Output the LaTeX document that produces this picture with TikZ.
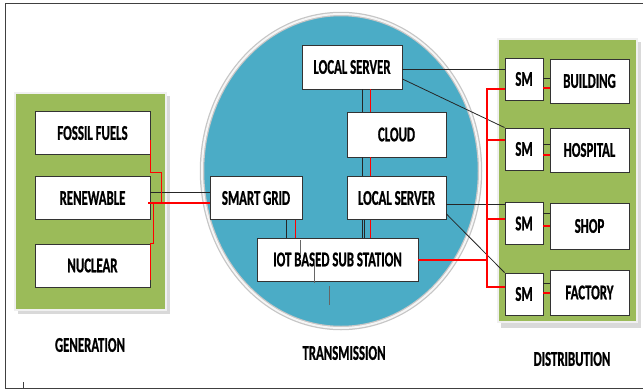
\documentclass[tikz,border=0pt]{standalone}
\usepackage{fontspec}
\setmainfont{Carlito}[FakeStretch=0.61,BoldFeatures={FakeBold=0.8}]
\usetikzlibrary{calc}
\definecolor{panelgreen}{HTML}{9BBB59}
\definecolor{ringblue}{HTML}{4BACC6}
\begin{document}
\begin{tikzpicture}
			[x=1pt,y=-1pt,
			box/.style={draw=black!80,line width=0.9pt,fill=white,inner sep=0pt,minimum height=43pt,
				font=\fontsize{21}{22}\selectfont\bfseries},
			panel/.style={fill=panelgreen,draw=gray!12,line width=1.5pt},
			caption/.style={font=\fontsize{21}{22}\selectfont\bfseries},
			blk/.style={draw=black!85,line width=0.8pt},
			rd/.style={draw=red,line width=1pt},
			rdthick/.style={draw=red,line width=2.4pt}]
			\useasboundingbox (0,0) rectangle (643,389);
			% frame
			\draw[black!75,line width=1pt](643,3) --(5,3) --(5,388) --(643,388);
			\draw[black!75,line width=0.8pt](23,382) --(23,389);
			% panels and ring
			\fill[gray!30](18,96) rectangle (170,314);
			\draw[panel](15,93) rectangle (166,310);
			\fill[gray!30](501,42) rectangle (641,328);
			\draw[panel](498,39) rectangle (637,322);
			\draw[fill=ringblue,draw=gray!45,line width=4.5pt](341,171) ellipse [x radius=139,y radius=157];
			\draw[draw=gray!8,line width=2pt](341,171) ellipse [x radius=139,y radius=157];
			% generation
			\node[box,minimum width=115pt,name=fossil]at(92.5,133){FOSSIL FUELS};
			\node[box,minimum width=115pt,name=renew]at(92.5,198){RENEWABLE};
			\node[box,minimum width=115pt,name=nuclear]at(92.5,265.5){NUCLEAR};
			% transmission
			\node[box,minimum width=100pt,minimum height=44pt,name=lsa]at(352,67){LOCAL SERVER};
			\node[box,minimum width=99pt,minimum height=45pt,name=cloud]at(396.5,134.5){CLOUD};
			\node[box,minimum width=92pt,name=sgrid]at(256,198){SMART GRID};
			\node[box,minimum width=99pt,name=lsb]at(396.5,198){LOCAL SERVER};
			\node[box,minimum width=161pt,name=iot]at(337.5,259.5){IOT BASED SUB STATION};
			% distribution
			\node[box,minimum width=38pt,minimum height=42pt,name=sma]at(524,79){SM};
			\node[box,minimum width=38pt,minimum height=42pt,name=smb]at(524,149){SM};
			\node[box,minimum width=38pt,minimum height=42pt,name=smc]at(524,223.5){SM};
			\node[box,minimum width=38pt,minimum height=42pt,name=smd]at(524,294){SM};
			\node[box,minimum width=79pt,minimum height=44pt,name=building]at(589.5,81){BUILDING};
			\node[box,minimum width=79pt,minimum height=44pt,name=hospital]at(589.5,150){HOSPITAL};
			\node[box,minimum width=79pt,minimum height=46pt,name=shop]at(589.5,226){SHOP};
			\node[box,minimum width=79pt,minimum height=45pt,name=factory]at(589.5,292.5){FACTORY};
			\coordinate (bus) at (487,0);
			% labels
			\node[caption,name=gen]at(90,345){GENERATION};
			\node[caption,name=trans]at(344,353){TRANSMISSION};
			\node[caption,name=dist]at(572,359){DISTRIBUTION};
			% generation to smart grid
			\draw[blk]([yshift=6pt]renew.east) --([yshift=6pt]sgrid.west);
			\draw[rdthick]([xshift=-2pt,yshift=-5pt]renew.east) --([yshift=-5pt]sgrid.west);
			\draw[rd]([yshift=-7pt]fossil.east) --++(0,32) --++(11,0) --++(0,31);
			\draw[rd]([yshift=-14.5pt]nuclear.east) --++(0,-37) --++(3,0) --++(0,-40);
			% inside the ring
			\draw[blk]([xshift=10pt]lsa.south) --([xshift=10pt]lsa.south |- cloud.north);
			\draw[rd]([xshift=18pt]lsa.south) --([xshift=18pt]lsa.south |- cloud.north);
			\draw[blk]([xshift=-34.5pt]cloud.south) --([xshift=-34.5pt]lsb.north);
			\draw[rd]([xshift=-26.5pt]cloud.south) --([xshift=-26.5pt]lsb.north);
			\draw[blk]([xshift=-34.5pt]lsb.south) --([xshift=-34.5pt]lsb.south |- iot.north);
			\draw[blk]([xshift=-32pt]lsb.south) --([xshift=-32pt]lsb.south |- iot.north);
			\draw[rd]([xshift=-26.5pt]lsb.south) --([xshift=-26.5pt]lsb.south |- iot.north);
			\draw[blk]([xshift=30pt]sgrid.south) --([xshift=30pt]sgrid.south |- iot.north);
			\draw[rd]([xshift=39pt]sgrid.south) --([xshift=39pt]sgrid.south |- iot.north);
			\draw[black!60,line width=0.6pt](300,240) --(300,255);
			\draw[black!60,line width=0.6pt](314,260) --(314,283);
			\draw[black!60,line width=0.8pt](329,286) --(329,305);
			% servers to smart meters
			\draw[blk]([yshift=-2pt]lsa.east) --([yshift=-2pt]lsa.east -| sma.west);
			\draw[blk]([yshift=-12pt]lsa.east) --(smb.north west);
			\draw[blk]([yshift=-6pt]lsb.east) --([yshift=-6pt]lsb.east -| smc.west);
			\draw[blk]([yshift=-16pt]lsb.east) --(smd.north west);
			% red bus
			\draw[rdthick,line width=2pt](iot.east) --(iot.east -| bus);
			\draw[rdthick,line width=2pt]([yshift=-10pt]sma.west) -|(bus |- 0,287) --([yshift=7pt]smd.west);
			\draw[rdthick,line width=2pt]([yshift=9pt]smb.west) --([yshift=9pt]smb.west -| bus);
			\draw[rdthick,line width=2pt]([yshift=4.5pt]smc.west) --([yshift=4.5pt]smc.west -| bus);
			% meters to buildings
			\foreach \sm/\site/\b/\r in {sma/building/1/-9,smb/hospital/5/-6,smc/shop/10.5/-2.5,smd/factory/11/1}{
				\draw[blk]([yshift=\b pt]\sm.east) --([yshift=\b pt]\sm.east -| \site.west);
				\draw[rdthick,line width=1.6pt]([yshift=\r pt]\sm.east) --([yshift=\r pt]\sm.east -| \site.west);
			}
		\end{tikzpicture}
\end{document}
